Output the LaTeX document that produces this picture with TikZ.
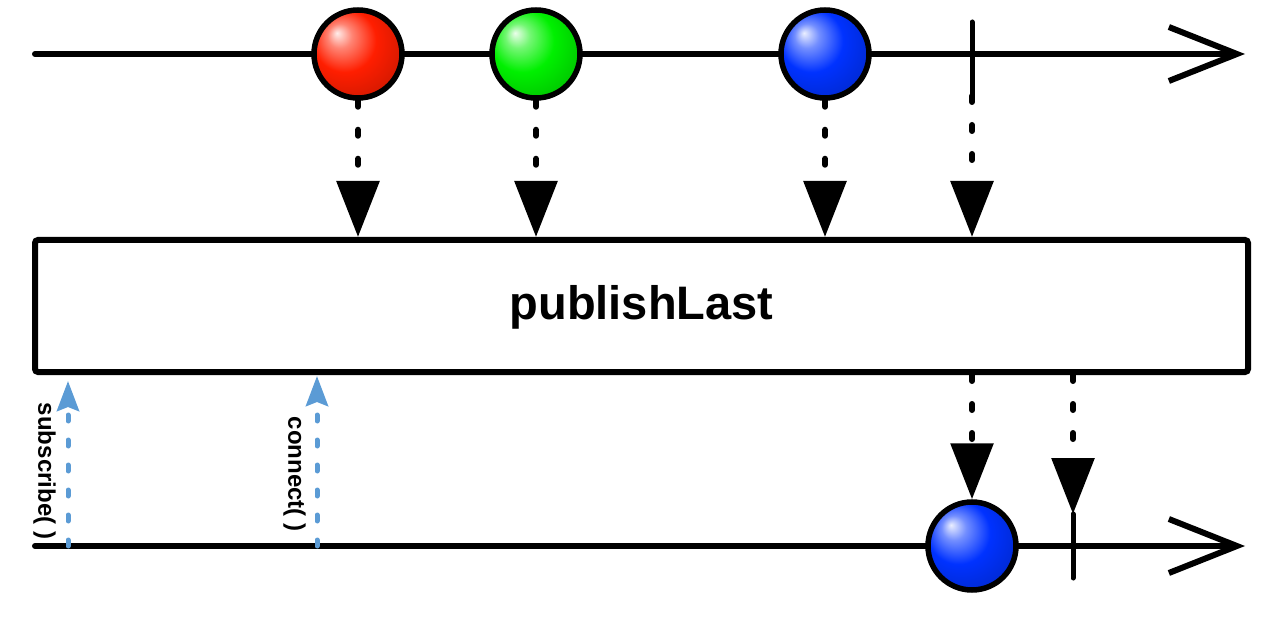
\documentclass[tikz,border=0pt]{standalone}
\usepackage{fontspec}
\setmainfont{Liberation Sans}
\usetikzlibrary{arrows.meta,calc}

\definecolor{callblue}{RGB}{91,155,213}
\definecolor{ballred}{RGB}{255,30,0}
\definecolor{ballgreen}{RGB}{0,240,0}
\definecolor{ballblue}{RGB}{0,50,255}

% glossy marble shadings
\newcommand\marbleshading[2]{%
    \pgfdeclareradialshading{#1}{\pgfpoint{-12bp}{12bp}}{color(0bp)=(#2!8!white);
        color(7bp)=(#2!55!white); color(18bp)=(#2); color(30bp)=(#2!85!black);
        color(45bp)=(#2!55!black); color(50bp)=(#2!50!black)}}
\marbleshading{redmarble}{ballred}
\marbleshading{greenmarble}{ballgreen}
\marbleshading{bluemarble}{ballblue}

\tikzset{
    timeline/.style={line width=6pt,line cap=round,-{Straight Barb[length=68pt,width=54pt]}},
    marble/.style={circle,draw,line width=5.5pt,minimum size=88pt,inner sep=0pt,shading=#1},
    emit/.style={line width=6pt,line cap=round,dash pattern=on 6pt off 23pt,
        -{Triangle[length=56pt,width=42pt]}},
    call/.style={callblue,line width=5pt,line cap=round,dash pattern=on 6pt off 19pt,
        -{Stealth[length=30pt,width=22pt,inset=4pt]}},
    calltext/.style={rotate=-90,font=\bfseries\fontsize{24}{26}\selectfont,inner sep=0pt}
}

\begin{document}
\begin{tikzpicture}[x=1pt,y=-1pt]

    \useasboundingbox (0,0) rectangle (1280,620);

    % source
    \coordinate (in0) at (35,54);
    \coordinate (in1) at (1245,54);
    \draw[timeline] (in0) -- (in1);
    \node[marble=redmarble] (red) at (358,54) {};
    \node[marble=greenmarble] (green) at (536,54) {};
    \node[marble=bluemarble] (blue) at (825,54) {};
    \coordinate (done) at (972,54);
    \draw[line width=5pt,line cap=round] ($(done)+(0,-32)$) -- ($(done)+(0,42)$) coordinate (donebot);

    % operator
    \node[draw,line width=6pt,rounded corners=3pt,minimum width=1213pt,minimum height=132pt,
        font=\bfseries\fontsize{47}{50}\selectfont] (op) at (641.5,306) {\raisebox{-14pt}[0pt][0pt]{publishLast}};

    \draw[emit] (red.south) -- (red |- op.north);
    \draw[emit] (green.south) -- (green |- op.north);
    \draw[emit] (blue.south) -- (blue |- op.north);
    \draw[emit] (donebot) -- (done |- op.north);

    % result
    \coordinate (out0) at (35,546);
    \coordinate (out1) at (1245,546);
    \draw[timeline] (out0) -- (out1);
    \node[marble=bluemarble] (last) at (972,546) {};
    \coordinate (end) at (1073,546);
    \draw[line width=5pt,line cap=round] ($(end)+(0,-32)$) coordinate (endtop) -- ($(end)+(0,32)$);

    \draw[emit] (last |- op.south) -- (last.north);
    \draw[emit] (end |- op.south) -- (endtop);

    % subscribe and connect
    \coordinate (sub) at (68,546);
    \coordinate (con) at (317,546);
    \draw[call] (sub) -- ($(sub |- op.south)+(0,6)$);
    \draw[call] (con) -- ($(con |- op.south)+(0,1)$);
    \node[calltext,anchor=north] (subtext) at (56,471) {subscribe( )};
    \node[calltext,anchor=north] (context) at (306,474) {connect( )};

\end{tikzpicture}
\end{document}
